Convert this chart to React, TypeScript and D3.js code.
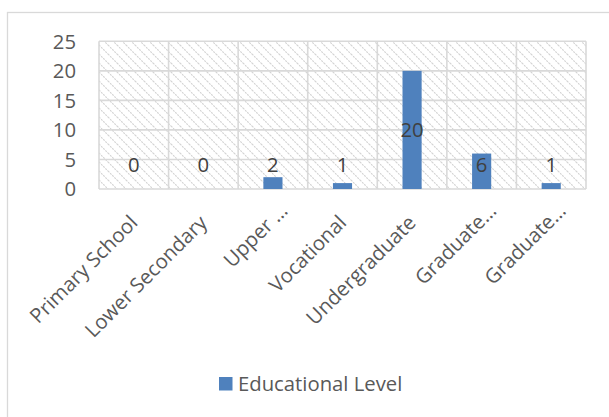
import React, { useEffect, useRef } from "react";
import * as d3 from "d3";

const categories = [
  "Primary School",
  "Lower Secondary",
  "Upper …",
  "Vocational",
  "Undergraduate",
  "Graduate…",
  "Graduate…",
];
const values = [0, 0, 2, 1, 20, 6, 1];
const yTicks = [0, 5, 10, 15, 20, 25];
const seriesName = "Educational Level";

const W = 609;
const H = 417;
const FONT = "'Open Sans', sans-serif";
const FS = 20.3;

export default function App() {
  const ref = useRef<SVGSVGElement>(null);

  useEffect(() => {
    const svg = d3.select(ref.current);
    svg.selectAll("*").remove();

    const left = 99, right = 586, top = 41.3, bottom = 189;

    const x = d3.scaleBand<string>()
      .domain(categories.map((_, i) => String(i)))
      .range([left, right])
      .paddingInner(0)
      .paddingOuter(0);
    const y = d3.scaleLinear().domain([0, 25]).range([bottom, top]);

    const defs = svg.append("defs");
    const pat = defs.append("pattern")
      .attr("id", "hatch")
      .attr("patternUnits", "userSpaceOnUse")
      .attr("width", 9)
      .attr("height", 9);
    pat.append("path")
      .attr("d", "M0,0 L9,9 M-3,6 L3,12 M6,-3 L12,3")
      .attr("stroke", "#d2d2d2")
      .attr("stroke-width", 1.1)
      .attr("stroke-dasharray", "2 1");

    // chart border
    svg.append("rect")
      .attr("x", 7.5).attr("y", 12.5)
      .attr("width", 640).attr("height", 440)
      .attr("fill", "#fff")
      .attr("stroke", "#d9d9d9")
      .attr("stroke-width", 1.3);

    // hatched plot area
    svg.append("rect")
      .attr("x", left).attr("y", top)
      .attr("width", right - left).attr("height", bottom - top)
      .attr("fill", "url(#hatch)");

    // horizontal gridlines
    svg.append("g").selectAll("line")
      .data(yTicks)
      .join("line")
      .attr("x1", left).attr("x2", right)
      .attr("y1", (d) => y(d)).attr("y2", (d) => y(d))
      .attr("stroke", "#d9d9d9").attr("stroke-width", 1.6);

    // vertical gridlines at category boundaries
    const bounds = categories.map((_, i) => x(String(i))!).concat([right]);
    svg.append("g").selectAll("line")
      .data(bounds)
      .join("line")
      .attr("x1", (d) => d).attr("x2", (d) => d)
      .attr("y1", top).attr("y2", bottom)
      .attr("stroke", "#d9d9d9").attr("stroke-width", 1.6);

    // bars
    const bw = x.bandwidth() * 0.275;
    svg.append("g").selectAll("rect")
      .data(values)
      .join("rect")
      .attr("x", (_, i) => x(String(i))! + x.bandwidth() / 2 - bw / 2)
      .attr("y", (d) => y(d))
      .attr("width", bw)
      .attr("height", (d) => y(0) - y(d))
      .attr("fill", "#4f81bd");

    // y tick labels
    svg.append("g").selectAll("text")
      .data(yTicks)
      .join("text")
      .attr("x", 76)
      .attr("y", (d) => y(d))
      .attr("dy", "0.36em")
      .attr("text-anchor", "end")
      .attr("font-family", FONT)
      .attr("font-size", FS)
      .attr("fill", "#595959")
      .text((d) => d);

    // data labels
    svg.append("g").selectAll("text")
      .data(values)
      .join("text")
      .attr("x", (_, i) => x(String(i))! + x.bandwidth() / 2)
      .attr("y", (d) => Math.min(y(d / 2), y(0) - 24.5))
      .attr("dy", "0.36em")
      .attr("text-anchor", "middle")
      .attr("font-family", FONT)
      .attr("font-size", FS)
      .attr("fill", "#404040")
      .text((d) => d);

    // x labels
    svg.append("g").selectAll("text")
      .data(categories)
      .join("text")
      .attr("transform", (d, i) => {
        const cx = x(String(i))! + x.bandwidth() / 2;
        const trunc = d.endsWith("…");
        const ax = cx + (trunc ? 16 : 5);
        const ay = trunc ? 212 : 224;
        return `translate(${ax},${ay}) rotate(-45)`;
      })
      .attr("text-anchor", "end")
      .attr("font-family", FONT)
      .attr("font-size", FS)
      .attr("fill", "#595959")
      .text((d) => d);

    // legend
    const lg = svg.append("g");
    lg.append("rect")
      .attr("x", 219).attr("y", 377)
      .attr("width", 13.5).attr("height", 13.5)
      .attr("fill", "#4f81bd");
    lg.append("text")
      .attr("x", 238).attr("y", 384)
      .attr("dy", "0.36em")
      .attr("font-family", FONT)
      .attr("font-size", FS)
      .attr("fill", "#595959")
      .text(seriesName);
  }, []);

  return (
    <svg
      ref={ref}
      width={W}
      height={H}
      style={{ position: "absolute", left: 0, top: 0, background: "#fff" }}
    />
  );
}
